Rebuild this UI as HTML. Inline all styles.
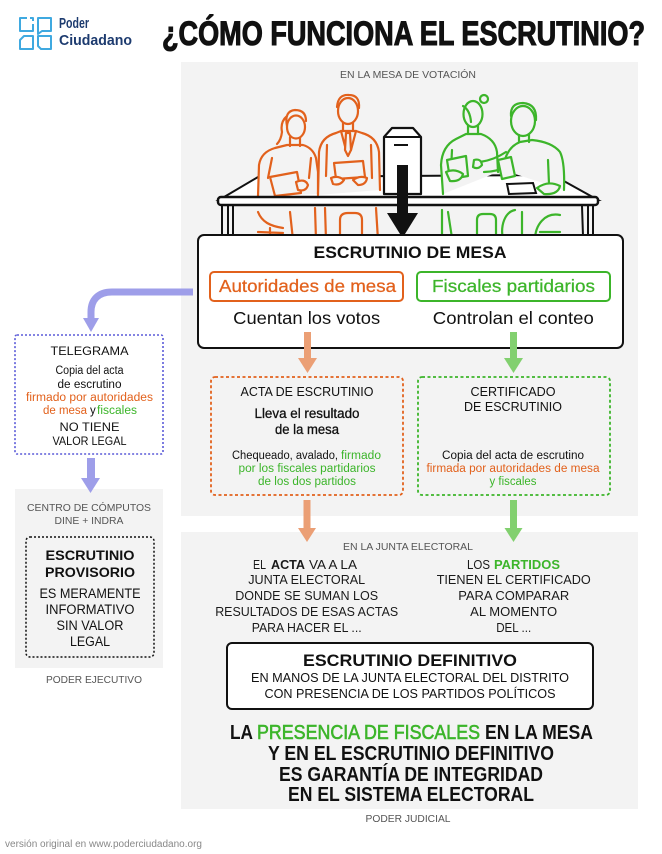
<!DOCTYPE html>
<html><head><meta charset="utf-8"><style>
html,body{margin:0;padding:0;background:#fff;}
svg{display:block;}
text{font-family:"Liberation Sans",Arial,sans-serif;}
</style></head><body>
<svg width="662" height="854" viewBox="0 0 662 854" xmlns="http://www.w3.org/2000/svg">
<!-- panels -->
<rect x="181" y="62" width="457" height="454" fill="#f3f3f3"/>
<rect x="181" y="532" width="457" height="277" fill="#f3f3f3"/>
<rect x="15" y="489" width="148" height="179" fill="#f3f3f3"/>

<!-- logo -->
<g fill="none" stroke="#3fa9e0" stroke-width="2" stroke-linejoin="round">
  <path d="M27 18 L20 18 L20 31 L33 31 L33 24"/>
  <path d="M30 18 L33 18 L33 21"/>
  <path d="M38 18 L51 18 L51 31 L42 31 L38 34 Z"/>
  <path d="M20 40 L20 49 L33 49 L33 36 L24 36 Z"/>
  <path d="M38 36 L51 36 L51 49 L41 49 L38 46 Z"/>
</g>
<text x="59" y="28" font-size="14.5" font-weight="bold" fill="#1d3b6f" textLength="30" lengthAdjust="spacingAndGlyphs">Poder</text>
<text x="59" y="45" font-size="14.5" font-weight="bold" fill="#1d3b6f" textLength="73" lengthAdjust="spacingAndGlyphs">Ciudadano</text>

<!-- title -->
<text x="162" y="45" font-size="34" font-weight="bold" fill="#111" stroke="#111" stroke-width="1.1" textLength="483" lengthAdjust="spacingAndGlyphs">¿CÓMO FUNCIONA EL ESCRUTINIO?</text>

<text x="408" y="78" font-size="10.5" fill="#555" text-anchor="middle" textLength="136" lengthAdjust="spacingAndGlyphs">EN LA MESA DE VOTACIÓN</text>

<!-- table surface -->
<path d="M219 200 L258 177 L553 175 L598 200 Z" fill="#fff" stroke="#111" stroke-width="2"/>

<!-- orange people -->
<g fill="#f3f3f3" stroke="#e2611c" stroke-width="2.2" stroke-linecap="round" stroke-linejoin="round">
  <path d="M258 196 L259 165 Q261 152 275 148 L287 145 L303 145 Q313 148 316 158 L318 172 L318 194"/>
  <path d="M290 137 L290 146 M300 137 L300 146" fill="none"/>
  <ellipse cx="296" cy="127" rx="9" ry="11.5"/>
  <path d="M287 126 Q284 111 295 110 Q306 110 306 121 M287 116 Q280 122 282 132 Q281 140 277 144" fill="none"/>
  <path d="M272 158 L268 178 M311 158 L309 178" fill="none"/>
  <path d="M270 177 L297 172 L301 193 L275 196 Z"/>
  <path d="M296 182 Q305 178 308 185 Q306 192 298 190 Z"/>

  <path d="M318 195 L319 152 Q321 137 336 133 L341 131 L356 131 L362 133 Q377 137 379 152 L380 190"/>
  <ellipse cx="348" cy="111" rx="10" ry="13"/>
  <path d="M337 107 Q338 94 349 95 Q360 95 359 108" fill="none"/>
  <path d="M343 123 L343 131 M353 123 L353 131" fill="none"/>
  <path d="M341 131 L346 150 M356 131 L351 150" fill="none"/>
  <path d="M346 133 L350 133 L351 150 L348 156 L345 150 Z"/>
  <path d="M327 145 L326 176 M371 145 L372 178" fill="none"/>
  <path d="M334 163 L363 161 L365 177 L336 179 Z"/>
  <path d="M331 178 Q338 175 344 180 Q340 186 333 184 Z"/>
  <path d="M353 180 Q360 175 367 178 Q366 185 358 185 Z"/>
</g>

<!-- green people -->
<g fill="#f3f3f3" stroke="#3cb52a" stroke-width="2.2" stroke-linecap="round" stroke-linejoin="round">
  <path d="M443 194 L441 165 Q442 146 456 139 L466 134 L481 134 Q495 139 497 152 L498 172"/>
  <ellipse cx="473" cy="114" rx="9.5" ry="13"/>
  <circle cx="484" cy="99" r="4"/>
  <path d="M463 106 Q470 110 471 122" fill="none"/>
  <path d="M468 126 L468 134 M478 126 L478 134" fill="none"/>
  <path d="M452 150 L451 170" fill="none"/>
  <path d="M447 160 L466 156 L468 176 L450 179 Z"/>
  <path d="M446 172 Q455 168 463 174 Q461 182 450 181 Z"/>

  <path d="M503 170 Q505 148 520 142 L532 140 Q552 142 560 152 Q565 162 564 190"/>
  <ellipse cx="523" cy="121" rx="12" ry="15"/>
  <path d="M511 116 Q510 103 523 103 Q537 104 536 120" fill="none"/>
  <path d="M519 135 L519 142 M529 135 L529 142" fill="none"/>
  <path d="M506 152 Q494 160 480 162 M508 166 Q496 172 484 172" fill="none"/>
  <path d="M474 160 Q481 158 482 165 Q478 170 473 167 Z"/>
  <path d="M498 160 L511 157 L515 176 L502 179 Z"/>
  <path d="M548 160 L549 184" fill="none"/>
  <path d="M537 188 Q548 180 560 186 Q558 195 544 194 Z"/>
</g>

<!-- tablet on table -->
<path d="M507 184 L533 183 L536 193 L509 194 Z" fill="#fff" stroke="#111" stroke-width="2"/>

<!-- table front and legs -->
<rect x="218" y="197" width="380" height="8" rx="3" fill="#fff" stroke="#111" stroke-width="2.5"/>
<path d="M222 206 L222 236 M228 206 L228 236 M233 206 L233 236 M582 206 L583 236 M588 206 L588 236 M593 206 L593 236" stroke="#111" stroke-width="2" fill="none"/>

<!-- under table -->
<g fill="none" stroke="#e2611c" stroke-width="2.2" stroke-linecap="round">
  <path d="M258 212 C262 222 270 226 283 228 M258 232 L283 233 M270 228 L270 240 M290 212 L293 240"/>
  <path d="M315 208 L316 240 M325 208 L326 240"/>
  <path d="M340 240 L340 220 Q340 213 348 213 L355 213 Q362 213 362 220 L362 240"/>
  <path d="M376 208 L378 240"/>
</g>
<g fill="none" stroke="#3cb52a" stroke-width="2.2" stroke-linecap="round">
  <path d="M442 210 L442 238 M448 212 L452 238"/>
  <path d="M477 240 L477 220 Q477 214 483 214 L490 214 Q496 214 496 220 L496 240"/>
  <path d="M503 240 C500 225 505 212 515 210 M522 212 L522 240"/>
  <path d="M535 240 C535 225 545 212 560 215 M540 232 L560 232"/>
</g>

<!-- ballot box -->
<path d="M384 194 L384 137 L392 128 L413 128 L421 137 L421 194 Z" fill="#fff" stroke="#111" stroke-width="2.2" stroke-linejoin="round"/>
<path d="M384 137 L421 137" stroke="#111" stroke-width="2"/>
<path d="M394 145 L408 145" stroke="#111" stroke-width="2"/>
<rect x="397" y="165" width="11" height="50" fill="#111"/>
<path d="M387 213 L418 213 L402.5 238 Z" fill="#111"/>

<!-- ESCRUTINIO DE MESA box -->
<rect x="198" y="235" width="425" height="113" rx="6" fill="#fff" stroke="#111" stroke-width="2"/>
<text x="410" y="258" font-size="17" font-weight="bold" fill="#111" text-anchor="middle" textLength="193" lengthAdjust="spacingAndGlyphs">ESCRUTINIO DE MESA</text>
<rect x="210" y="272" width="193" height="29" rx="4" fill="#fff" stroke="#e2611c" stroke-width="2"/>
<text x="307.5" y="292" font-size="17.5" fill="#e2611c" stroke="#e2611c" stroke-width="0.25" text-anchor="middle" textLength="177" lengthAdjust="spacingAndGlyphs">Autoridades de mesa</text>
<rect x="417" y="272" width="193" height="29" rx="4" fill="#fff" stroke="#3cb52a" stroke-width="2"/>
<text x="513.5" y="292" font-size="17.5" fill="#3cb52a" stroke="#3cb52a" stroke-width="0.25" text-anchor="middle" textLength="163" lengthAdjust="spacingAndGlyphs">Fiscales partidarios</text>
<text x="306.7" y="324" font-size="17.5" fill="#111" text-anchor="middle" textLength="147" lengthAdjust="spacingAndGlyphs">Cuentan los votos</text>
<text x="513.3" y="324" font-size="17.5" fill="#111" text-anchor="middle" textLength="161" lengthAdjust="spacingAndGlyphs">Controlan el conteo</text>

<!-- arrows from box -->
<rect x="304" y="332" width="7" height="27" fill="#eb9f75"/>
<path d="M298 358 L317 358 L307.5 373 Z" fill="#eb9f75"/>
<rect x="510" y="332" width="7" height="27" fill="#82d06f"/>
<path d="M504 358 L523 358 L513.5 373 Z" fill="#82d06f"/>

<!-- Acta box -->
<rect x="211" y="377" width="192" height="118" rx="4" fill="none" stroke="#e2611c" stroke-width="1.8" stroke-dasharray="3 2.5"/>
<text x="307" y="396" font-size="12.5" fill="#111" text-anchor="middle" textLength="133" lengthAdjust="spacingAndGlyphs">ACTA DE ESCRUTINIO</text>
<text x="307" y="418" font-size="13.5" fill="#111" text-anchor="middle" textLength="105" lengthAdjust="spacingAndGlyphs" stroke="#111" stroke-width="0.3">Lleva el resultado</text>
<text x="307" y="434" font-size="13.5" fill="#111" text-anchor="middle" textLength="64" lengthAdjust="spacingAndGlyphs" stroke="#111" stroke-width="0.3">de la mesa</text>
<text x="232" y="459" font-size="11.5" fill="#111" textLength="106" lengthAdjust="spacingAndGlyphs">Chequeado, avalado,</text>
<text x="341" y="459" font-size="11.5" fill="#3cb52a" textLength="40" lengthAdjust="spacingAndGlyphs">firmado</text>
<text x="307" y="472" font-size="11.5" fill="#3cb52a" text-anchor="middle" textLength="137" lengthAdjust="spacingAndGlyphs">por los fiscales partidarios</text>
<text x="307" y="485" font-size="11.5" fill="#3cb52a" text-anchor="middle" textLength="98" lengthAdjust="spacingAndGlyphs">de los dos partidos</text>

<!-- Certificado box -->
<rect x="418" y="377" width="192" height="118" rx="4" fill="none" stroke="#3cb52a" stroke-width="1.8" stroke-dasharray="3 2.5"/>
<text x="513" y="396" font-size="12.5" fill="#111" text-anchor="middle" textLength="85" lengthAdjust="spacingAndGlyphs">CERTIFICADO</text>
<text x="513" y="411" font-size="12.5" fill="#111" text-anchor="middle" textLength="98" lengthAdjust="spacingAndGlyphs">DE ESCRUTINIO</text>
<text x="513" y="459" font-size="11.5" fill="#111" text-anchor="middle" textLength="142" lengthAdjust="spacingAndGlyphs">Copia del acta de  escrutino</text>
<text x="513" y="472" font-size="11.5" fill="#e2611c" text-anchor="middle" textLength="173" lengthAdjust="spacingAndGlyphs">firmada por autoridades de mesa</text>
<text x="513" y="485" font-size="11.5" fill="#3cb52a" text-anchor="middle" textLength="47" lengthAdjust="spacingAndGlyphs">y fiscales</text>

<!-- arrows to junta -->
<rect x="303.5" y="500" width="7" height="29" fill="#eb9f75"/>
<path d="M298 528 L316 528 L307 542 Z" fill="#eb9f75"/>
<rect x="510" y="500" width="7" height="29" fill="#82d06f"/>
<path d="M504.5 528 L522.5 528 L513.5 542 Z" fill="#82d06f"/>

<!-- purple arrow to telegrama -->
<path d="M193 292 L112 292 C98 292 91 300 91 312 L91 320" fill="none" stroke="#9e9ee9" stroke-width="7"/>
<path d="M83 318 L99 318 L91 332 Z" fill="#9e9ee9"/>

<!-- Telegrama -->
<rect x="15" y="335" width="148" height="119" rx="2" fill="none" stroke="#5c5cd8" stroke-width="1.6" stroke-dasharray="2 2"/>
<text x="89.5" y="355" font-size="12" fill="#111" text-anchor="middle" textLength="78" lengthAdjust="spacingAndGlyphs">TELEGRAMA</text>
<text x="89.5" y="374" font-size="11.5" fill="#111" text-anchor="middle" textLength="68" lengthAdjust="spacingAndGlyphs">Copia del acta</text>
<text x="89.5" y="388" font-size="11.5" fill="#111" text-anchor="middle" textLength="64" lengthAdjust="spacingAndGlyphs">de escrutino</text>
<text x="89.5" y="401" font-size="11.5" fill="#e2611c" text-anchor="middle" textLength="127" lengthAdjust="spacingAndGlyphs">firmado por autoridades</text>
<text x="43" y="414" font-size="11.5" fill="#e2611c" textLength="44" lengthAdjust="spacingAndGlyphs">de mesa</text>
<text x="90" y="414" font-size="11.5" fill="#111">y</text>
<text x="97" y="414" font-size="11.5" fill="#3cb52a" textLength="40" lengthAdjust="spacingAndGlyphs">fiscales</text>
<text x="89.5" y="431" font-size="12" fill="#111" text-anchor="middle" textLength="60" lengthAdjust="spacingAndGlyphs">NO TIENE</text>
<text x="89.5" y="445" font-size="12" fill="#111" text-anchor="middle" textLength="74" lengthAdjust="spacingAndGlyphs">VALOR LEGAL</text>

<!-- arrow down -->
<rect x="87" y="458" width="8" height="22" fill="#9e9ee9"/>
<path d="M81 478 L100 478 L90.5 493 Z" fill="#9e9ee9"/>

<!-- Centro de computos -->
<text x="89" y="511" font-size="10.5" fill="#555" text-anchor="middle" textLength="124" lengthAdjust="spacingAndGlyphs">CENTRO DE CÓMPUTOS</text>
<text x="89" y="524" font-size="10.5" fill="#555" text-anchor="middle" textLength="69" lengthAdjust="spacingAndGlyphs">DINE + INDRA</text>
<rect x="26" y="537" width="128" height="120" rx="4" fill="none" stroke="#111" stroke-width="1.5" stroke-dasharray="2 2"/>
<text x="90" y="560" font-size="13.5" font-weight="bold" fill="#111" text-anchor="middle" textLength="89" lengthAdjust="spacingAndGlyphs">ESCRUTINIO</text>
<text x="90" y="577" font-size="13.5" font-weight="bold" fill="#111" text-anchor="middle" textLength="90" lengthAdjust="spacingAndGlyphs">PROVISORIO</text>
<text x="90" y="598" font-size="13.5" fill="#111" text-anchor="middle" textLength="101" lengthAdjust="spacingAndGlyphs">ES MERAMENTE</text>
<text x="90" y="614" font-size="13.5" fill="#111" text-anchor="middle" textLength="89" lengthAdjust="spacingAndGlyphs">INFORMATIVO</text>
<text x="90" y="630" font-size="13.5" fill="#111" text-anchor="middle" textLength="67" lengthAdjust="spacingAndGlyphs">SIN VALOR</text>
<text x="90" y="646" font-size="13.5" fill="#111" text-anchor="middle" textLength="40" lengthAdjust="spacingAndGlyphs">LEGAL</text>
<text x="94" y="683" font-size="10.5" fill="#555" text-anchor="middle" textLength="96" lengthAdjust="spacingAndGlyphs">PODER EJECUTIVO</text>

<!-- Junta electoral -->
<text x="408" y="550" font-size="10.5" fill="#555" text-anchor="middle" textLength="130" lengthAdjust="spacingAndGlyphs">EN LA JUNTA ELECTORAL</text>
<g font-size="13" fill="#1a1a1a">
  <text x="253" y="569" textLength="13" lengthAdjust="spacingAndGlyphs">EL</text>
  <text x="271" y="569" font-weight="bold" textLength="34" lengthAdjust="spacingAndGlyphs">ACTA</text>
  <text x="309" y="569" textLength="48" lengthAdjust="spacingAndGlyphs">VA A LA</text>
  <text x="306.7" y="584" text-anchor="middle" textLength="117" lengthAdjust="spacingAndGlyphs">JUNTA ELECTORAL</text>
  <text x="306.7" y="600" text-anchor="middle" textLength="143" lengthAdjust="spacingAndGlyphs">DONDE SE SUMAN LOS</text>
  <text x="306.7" y="616" text-anchor="middle" textLength="183" lengthAdjust="spacingAndGlyphs">RESULTADOS DE ESAS ACTAS</text>
  <text x="306.7" y="632" text-anchor="middle" textLength="110" lengthAdjust="spacingAndGlyphs">PARA HACER EL ...</text>

  <text x="467" y="569" textLength="23" lengthAdjust="spacingAndGlyphs">LOS</text>
  <text x="494" y="569" font-weight="bold" fill="#3cb52a" textLength="66" lengthAdjust="spacingAndGlyphs">PARTIDOS</text>
  <text x="513.7" y="584" text-anchor="middle" textLength="154" lengthAdjust="spacingAndGlyphs">TIENEN EL CERTIFICADO</text>
  <text x="513.7" y="600" text-anchor="middle" textLength="111" lengthAdjust="spacingAndGlyphs">PARA COMPARAR</text>
  <text x="513.7" y="616" text-anchor="middle" textLength="87" lengthAdjust="spacingAndGlyphs">AL MOMENTO</text>
  <text x="513.7" y="632" text-anchor="middle" textLength="35" lengthAdjust="spacingAndGlyphs">DEL ...</text>
</g>

<!-- Escrutinio definitivo -->
<rect x="227" y="643" width="366" height="66" rx="5" fill="#fff" stroke="#111" stroke-width="2"/>
<text x="410" y="666" font-size="17" font-weight="bold" fill="#111" text-anchor="middle" textLength="214" lengthAdjust="spacingAndGlyphs">ESCRUTINIO DEFINITIVO</text>
<text x="410" y="682" font-size="13" fill="#111" text-anchor="middle" textLength="318" lengthAdjust="spacingAndGlyphs">EN MANOS DE LA JUNTA ELECTORAL DEL DISTRITO</text>
<text x="410" y="698" font-size="13" fill="#111" text-anchor="middle" textLength="291" lengthAdjust="spacingAndGlyphs">CON PRESENCIA DE LOS PARTIDOS POLÍTICOS</text>

<!-- statement -->
<g font-size="20" font-weight="bold" fill="#111">
  <text x="230" y="739" textLength="23" lengthAdjust="spacingAndGlyphs">LA</text>
  <text x="257" y="739" fill="#3cb52a" textLength="223" lengthAdjust="spacingAndGlyphs" font-weight="normal" stroke="#3cb52a" stroke-width="0.6">PRESENCIA DE FISCALES</text>
  <text x="485" y="739" textLength="108" lengthAdjust="spacingAndGlyphs">EN LA MESA</text>
  <text x="411" y="760" text-anchor="middle" textLength="286" lengthAdjust="spacingAndGlyphs">Y EN EL ESCRUTINIO DEFINITIVO</text>
  <text x="411" y="781" text-anchor="middle" textLength="264" lengthAdjust="spacingAndGlyphs">ES GARANTÍA DE INTEGRIDAD</text>
  <text x="411" y="801" text-anchor="middle" textLength="246" lengthAdjust="spacingAndGlyphs">EN EL SISTEMA ELECTORAL</text>
</g>
<text x="408" y="822" font-size="10.5" fill="#555" text-anchor="middle" textLength="85" lengthAdjust="spacingAndGlyphs">PODER JUDICIAL</text>
<text x="5" y="847" font-size="10" fill="#888" textLength="197" lengthAdjust="spacingAndGlyphs">versión original en www.poderciudadano.org</text>
</svg>
</body></html>
